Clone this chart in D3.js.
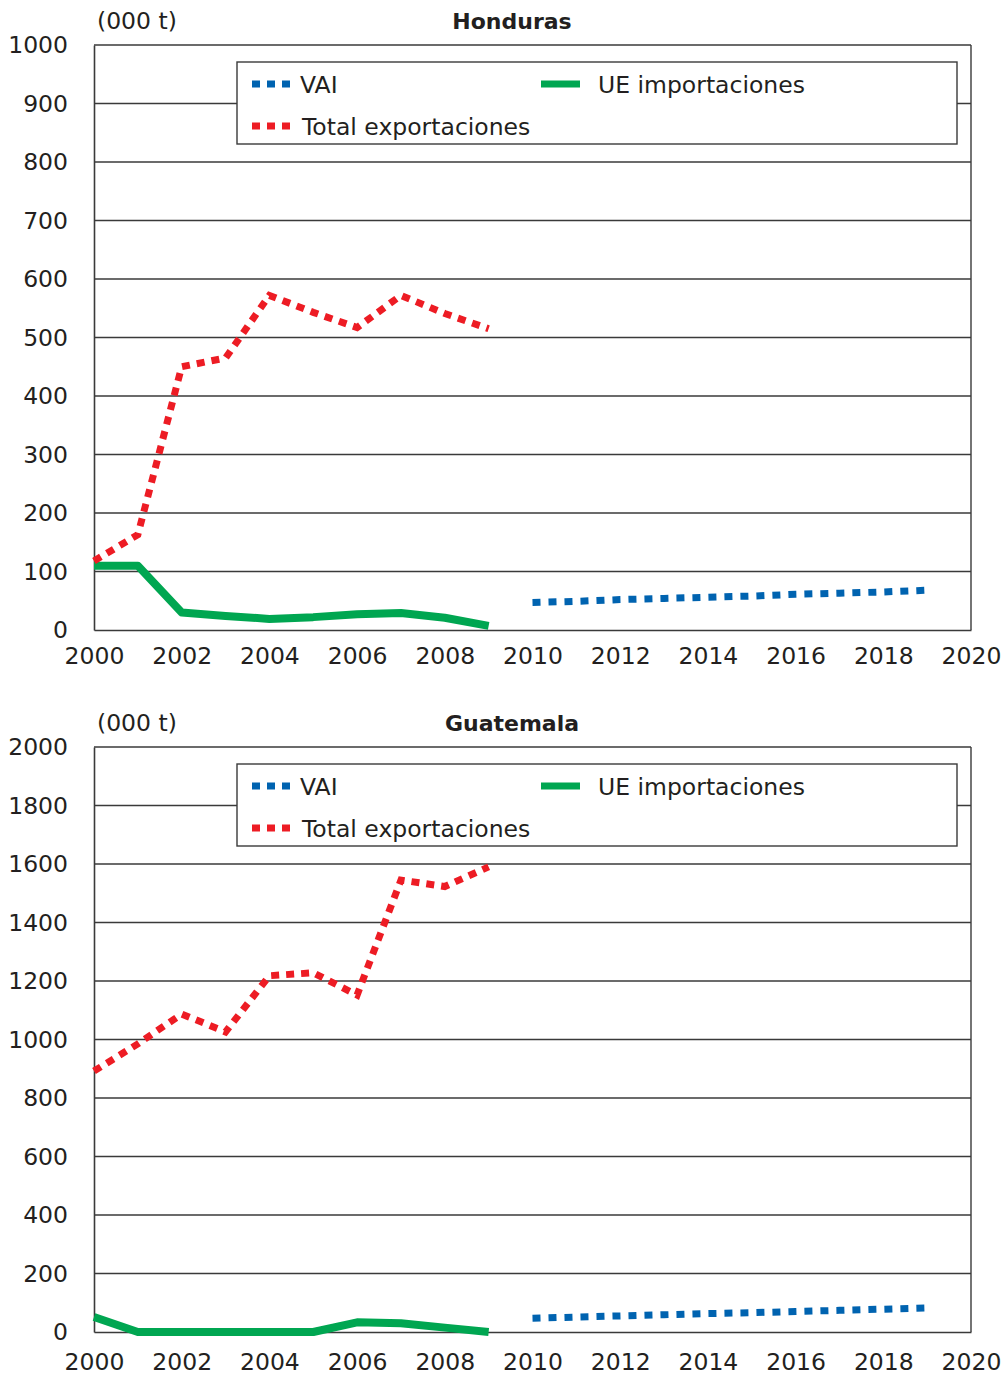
<!DOCTYPE html>
<html>
<head>
<meta charset="utf-8">
<script src="https://cdn.jsdelivr.net/npm/d3@7"></script>
<style>
  body { margin: 0; background: #fff; }
  svg text { font-family: "DejaVu Sans", sans-serif; fill: #231f20; }
</style>
</head>
<body>
<script>
const width = 1005;
const height = 1376;

// data
const years = [2000, 2001, 2002, 2003, 2004, 2005, 2006, 2007, 2008, 2009];
const vaiYears = [2010, 2011, 2012, 2013, 2014, 2015, 2016, 2017, 2018, 2019];
const xTicks = [2000, 2002, 2004, 2006, 2008, 2010, 2012, 2014, 2016, 2018, 2020];

const hondurasExport = [118, 163, 450, 465, 572, 543, 517, 572, 541, 515];
const hondurasImport = [110, 110, 30, 24, 19, 22, 27, 29, 21, 7];
const hondurasVai = [47, 49, 52, 54, 56, 58, 61, 63, 65, 68];
const hondurasTicks = [0, 100, 200, 300, 400, 500, 600, 700, 800, 900, 1000];

const guatemalaExport = [892, 985, 1087, 1026, 1218, 1228, 1152, 1545, 1523, 1590];
const guatemalaImport = [51, 0, 0, 0, 0, 0, 33, 30, 15, 0];
const guatemalaVai = [47, 51, 55, 59, 63, 66, 70, 74, 78, 82];
const guatemalaTicks = [0, 200, 400, 600, 800, 1000, 1200, 1400, 1600, 1800, 2000];

const red = '#ed1c24';
const blue = '#0063b0';
const green = '#00a651';
const fontSize = '23.5px';

const svg = d3.select('body')
  .append('svg')
  .attr('width', width)
  .attr('height', height);

function drawPanel(top, title, exportVals, importVals, vaiVals, ticks, xPad) {
  const g = svg.append('g').attr('transform', 'translate(0,' + top + ')');
  const plotTop = 45, plotBottom = 630, plotLeft = 94, plotRight = 971;

  const x = d3.scaleLinear().domain([2000, 2020]).range([plotLeft, plotRight]);
  const y = d3.scaleLinear().domain([0, d3.max(ticks)]).range([plotBottom, plotTop]);

  // gridlines
  g.append('g')
    .selectAll('line')
    .data(ticks.slice(1))
    .enter()
    .append('line')
      .attr('x1', plotLeft)
      .attr('x2', plotRight)
      .attr('y1', d => y(d))
      .attr('y2', d => y(d))
      .attr('stroke', '#3a3a3a')
      .attr('stroke-width', 1.4);

  // right border
  g.append('line')
    .attr('x1', plotRight).attr('x2', plotRight)
    .attr('y1', plotTop).attr('y2', plotBottom)
    .attr('stroke', '#3a3a3a').attr('stroke-width', 1.4);

  // axes
  const yAxis = d3.axisLeft(y).tickValues(ticks).tickFormat(d3.format('d')).tickSize(0).tickPadding(26);
  const yg = g.append('g').attr('transform', 'translate(' + plotLeft + ',0)').call(yAxis);
  yg.select('.domain').attr('stroke', '#3a3a3a').attr('stroke-width', 1.6);
  yg.selectAll('text').style('font-size', fontSize).attr('fill', '#231f20');

  const xAxis = d3.axisBottom(x).tickValues(xTicks).tickFormat(d3.format('d')).tickSize(0).tickPadding(xPad);
  const xg = g.append('g').attr('transform', 'translate(0,' + plotBottom + ')').call(xAxis);
  xg.select('.domain').attr('stroke', '#3a3a3a').attr('stroke-width', 1.6);
  xg.selectAll('text').style('font-size', fontSize).attr('fill', '#231f20');

  // titles
  g.append('text')
    .text(title)
    .attr('x', 512)
    .attr('y', 29)
    .attr('text-anchor', 'middle')
    .style('font-size', '22px')
    .style('font-weight', 'bold');
  g.append('text')
    .text('(000 t)')
    .attr('x', 97)
    .attr('y', 29)
    .style('font-size', fontSize);

  // legend
  const legend = g.append('g');
  legend.append('rect')
    .attr('x', 237).attr('y', 62)
    .attr('width', 720).attr('height', 82)
    .attr('fill', '#fff')
    .attr('stroke', '#3a3a3a')
    .attr('stroke-width', 1.4);
  const items = [
    { label: 'VAI', color: blue, dash: '8,7', lx: 252, ly: 84, tx: 300 },
    { label: 'UE importaciones', color: green, dash: null, lx: 541, ly: 84, tx: 598 },
    { label: 'Total exportaciones', color: red, dash: '8,7', lx: 252, ly: 126, tx: 302 }
  ];
  items.forEach(function(d) {
    legend.append('line')
      .attr('x1', d.lx).attr('x2', d.lx + 39)
      .attr('y1', d.ly).attr('y2', d.ly)
      .attr('stroke', d.color)
      .attr('stroke-width', 7)
      .attr('stroke-dasharray', d.dash);
    legend.append('text')
      .text(d.label)
      .attr('x', d.tx)
      .attr('y', d.ly + 9)
      .style('font-size', fontSize);
  });

  const line = d3.line().x(d => x(d[0])).y(d => y(d[1]));

  g.append('path')
    .datum(d3.zip(years, importVals))
    .attr('d', line)
    .attr('fill', 'none')
    .attr('stroke', green)
    .attr('stroke-width', 8)
    .attr('stroke-linejoin', 'round');

  g.append('path')
    .datum(d3.zip(years, exportVals))
    .attr('d', line)
    .attr('fill', 'none')
    .attr('stroke', red)
    .attr('stroke-width', 7)
    .attr('stroke-dasharray', '8,7');

  g.append('path')
    .datum(d3.zip(vaiYears, vaiVals))
    .attr('d', line)
    .attr('fill', 'none')
    .attr('stroke', blue)
    .attr('stroke-width', 7)
    .attr('stroke-dasharray', '8,8');
}

drawPanel(0, 'Honduras', hondurasExport, hondurasImport, hondurasVai, hondurasTicks, 17);
drawPanel(702, 'Guatemala', guatemalaExport, guatemalaImport, guatemalaVai, guatemalaTicks, 21);
</script>
</body>
</html>
